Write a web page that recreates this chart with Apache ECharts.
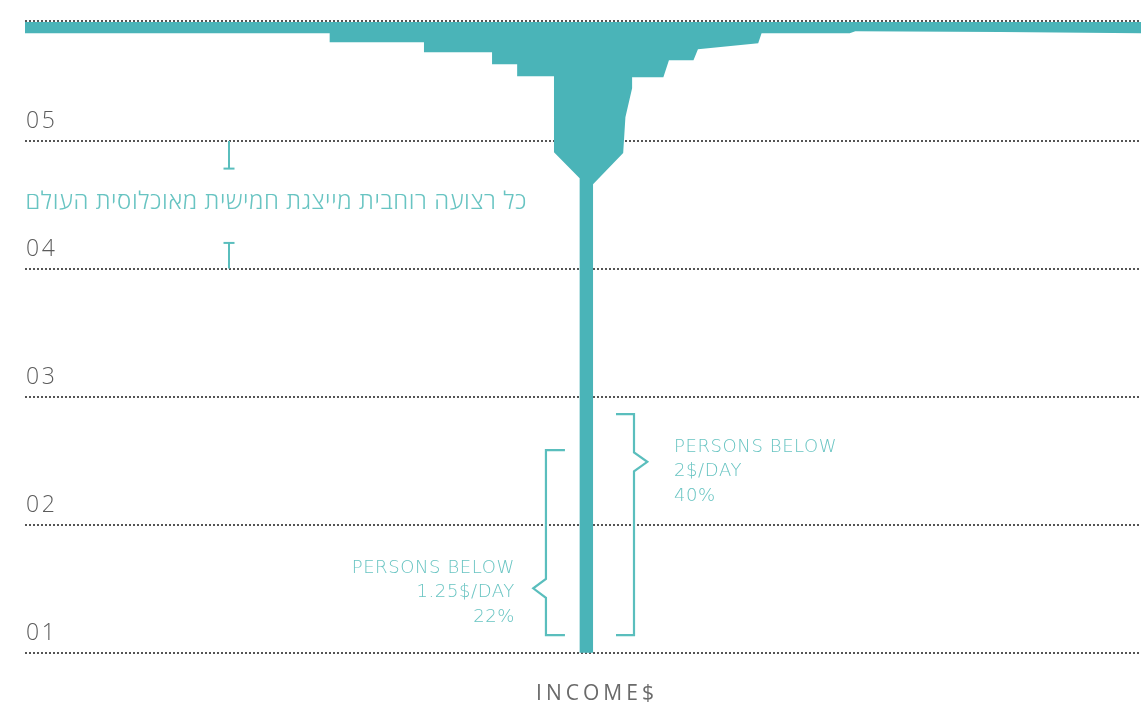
<!DOCTYPE html>
<html>
<head>
<meta charset="utf-8">
<script src="https://cdn.jsdelivr.net/npm/echarts@6/dist/echarts.min.js"></script>
<style>
  html, body { margin: 0; padding: 0; background: #ffffff; }
  #chart { width: 1141px; height: 705px; }
</style>
</head>
<body>
<div id="chart"></div>
<script>
// Letter-spacing support for canvas text: a font family token like "ls2p5" means 2.5px spacing.
(function () {
  const proto = CanvasRenderingContext2D.prototype;
  const orig = proto.fillText;
  proto.fillText = function (text, x, y, maxW) {
    const m = /ls(\d+)p(\d+)/.exec(this.font);
    if (m && ('letterSpacing' in this)) {
      const prev = this.letterSpacing;
      this.letterSpacing = m[1] + '.' + m[2] + 'px';
      const r = (maxW === undefined) ? orig.call(this, text, x, y) : orig.call(this, text, x, y, maxW);
      this.letterSpacing = prev;
      return r;
    }
    return (maxW === undefined) ? orig.call(this, text, x, y) : orig.call(this, text, x, y, maxW);
  };
})();

// ---- Data (income axis in % of plotted width, population in quintile units from bottom) ----
const quintileLabels = ['01', '02', '03', '04', '05'];
const populationTop = 4.94;

// Outline of the income distribution ("champagne glass"), clockwise from top-left
const outlineIncome = [
  0, 100, 100, 87.4, 74.4, 73.9, 66.0, 65.7, 60.3, 59.9, 57.7, 57.2, 54.4, 54.4,
  53.8, 53.6, 50.9, 50.9, 49.7, 49.7, 47.4, 47.4, 44.1, 44.1, 41.85, 41.85,
  35.75, 35.75, 27.3, 27.3, 0
];
const outlinePopulation = [
  4.93, 4.93, 4.841, 4.852, 4.857, 4.841, 4.841, 4.763, 4.716, 4.63, 4.63, 4.498, 4.498, 4.412,
  4.185, 3.905, 3.662, 0, 0, 3.709, 3.912, 4.505, 4.505, 4.599, 4.599, 4.693,
  4.693, 4.771, 4.771, 4.841, 4.841
];

// Poverty brackets: [income position, population from, population to, tip population]
const bracket125 = [46.68, 0.138, 1.584, 0.503];
const bracket2 = [54.57, 0.138, 1.865, 1.492];
const bracket125Text = ['PERSONS BELOW', '1.25$/DAY', '22%'];
const bracket2Text = ['PERSONS BELOW', '2$/DAY', '40%'];

// Quintile-width marker (I-beams) between lines 3 and 4
const markerIncome = 18.28;
const markerTopRange = [4.0, 3.784];
const markerBottomRange = [3.203, 3.003];
const noteText = 'כל רצועה רוחבית מייצגת חמישית מאוכלוסית העולם';
const notePopulation = 3.523;
const noteIncomeRight = 44.98;

const axisName = 'INCOME$';

const TEAL = '#4ab4b8';
const TEAL_LINE = '#5abebd';
const TEAL_TEXT = '#68c4c2';

const chart = echarts.init(document.getElementById('chart'));

function bracketShape(api, b, side) {
  const top = api.coord([b[0], b[2]]);
  const bot = api.coord([b[0], b[1]]);
  const tip = api.coord([b[0], b[3]]);
  const arm = side < 0 ? 19 : -18;
  const tipW = side < 0 ? -12.7 : 13.3;
  const x = top[0];
  return {
    type: 'polyline',
    shape: {
      points: [
        [x + arm, top[1]], [x, top[1]], [x, tip[1] - 9.5], [x + tipW, tip[1]],
        [x, tip[1] + 9.5], [x, bot[1]], [x + arm, bot[1]]
      ]
    },
    style: { stroke: TEAL_LINE, lineWidth: 2.2, fill: null }
  };
}

const option = {
  animation: false,
  backgroundColor: '#ffffff',
  grid: { left: 25, right: 0, top: 20.7, bottom: 52.3, outerBoundsMode: 'none', containLabel: false },
  xAxis: {
    type: 'value', min: 0, max: 100,
    axisLine: { show: false }, axisTick: { show: false },
    axisLabel: { show: false }, splitLine: { show: false },
    name: axisName, nameLocation: 'middle', nameGap: 31,
    nameTextStyle: {
      fontFamily: 'ls4p0, Open Sans', fontWeight: 400, fontSize: 21, color: '#6a6a6a',
      padding: [0, 0, 0, 28]
    }
  },
  yAxis: {
    type: 'value', min: 0, max: populationTop, interval: 1,
    axisLine: { show: false }, axisTick: { show: false },
    splitLine: { show: true, lineStyle: { type: [2, 2], color: '#555555', width: 2 } },
    axisLabel: {
      inside: true, margin: 1,
      verticalAlign: 'bottom',
      padding: [0, 0, 8, 0],
      fontFamily: 'ls2p5, Open Sans', fontWeight: 300, fontSize: 23, color: '#5c5c5c',
      formatter: function (v) {
        return (Number.isInteger(v) && v < quintileLabels.length) ? quintileLabels[v] : '';
      }
    }
  },
  series: [
    {
      type: 'custom',
      coordinateSystem: 'cartesian2d',
      data: [[0, 0]],
      z: 3,
      renderItem: function (params, api) {
        const pts = outlineIncome.map((x, i) => api.coord([x, outlinePopulation[i]]));
        return { type: 'polygon', shape: { points: pts }, style: { fill: TEAL } };
      }
    },
    {
      type: 'custom',
      coordinateSystem: 'cartesian2d',
      data: [[0, 0]],
      z: 4,
      silent: true,
      renderItem: function (params, api) {
        const children = [];
        children.push(bracketShape(api, bracket125, -1));
        children.push(bracketShape(api, bracket2, 1));
        const t0 = api.coord([markerIncome, markerTopRange[0]]);
        const t1 = api.coord([markerIncome, markerTopRange[1]]);
        const b0 = api.coord([markerIncome, markerBottomRange[0]]);
        const b1 = api.coord([markerIncome, markerBottomRange[1]]);
        const st = { stroke: TEAL_LINE, lineWidth: 2, fill: null };
        children.push({ type: 'line', shape: { x1: t0[0], y1: t0[1], x2: t1[0], y2: t1[1] }, style: st });
        children.push({ type: 'line', shape: { x1: t1[0] - 5.5, y1: t1[1], x2: t1[0] + 5.5, y2: t1[1] }, style: st });
        children.push({ type: 'line', shape: { x1: b0[0], y1: b0[1], x2: b1[0], y2: b1[1] }, style: st });
        children.push({ type: 'line', shape: { x1: b0[0] - 5.5, y1: b0[1], x2: b0[0] + 5.5, y2: b0[1] }, style: st });
        const n = api.coord([noteIncomeRight, notePopulation]);
        children.push({
          type: 'text',
          style: {
            x: n[0], y: n[1], text: noteText, align: 'right', verticalAlign: 'middle',
            fontFamily: 'ls0p6, Open Sans', fontWeight: 300, fontSize: 24, fill: TEAL_TEXT
          }
        });
        const l = api.coord([bracket125[0], bracket125[3]]);
        children.push({
          type: 'text',
          style: {
            x: l[0] - 31, y: l[1] + 4.2, text: bracket125Text.join('\n'), align: 'right', verticalAlign: 'middle',
            lineHeight: 24.3, fontFamily: 'ls0p6, DejaVu Sans', fontWeight: 200, fontSize: 18, fill: TEAL_TEXT
          }
        });
        const r = api.coord([bracket2[0], bracket2[3]]);
        children.push({
          type: 'text',
          style: {
            x: r[0] + 40, y: r[1] + 9.6, text: bracket2Text.join('\n'), align: 'left', verticalAlign: 'middle',
            lineHeight: 24.5, fontFamily: 'ls0p6, DejaVu Sans', fontWeight: 200, fontSize: 18, fill: TEAL_TEXT
          }
        });
        return { type: 'group', children: children };
      }
    }
  ]
};

chart.setOption(option);
</script>
</body>
</html>
